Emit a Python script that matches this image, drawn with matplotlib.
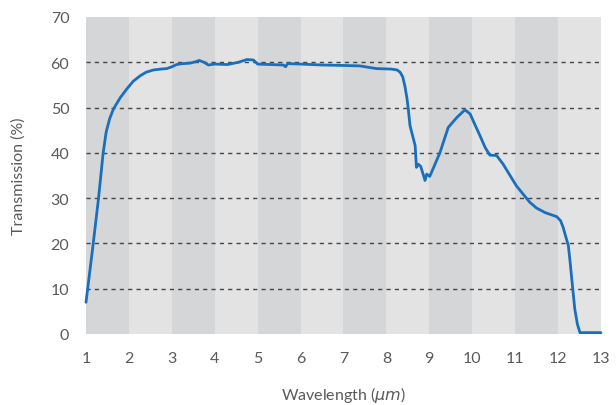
import matplotlib.pyplot as plt
import numpy as np

# transmission curve
wavelength = [1.0, 1.15, 1.29, 1.40, 1.47, 1.55, 1.64, 1.80, 1.95, 2.10, 2.26, 2.40, 2.57,
              2.75, 2.88, 3.0, 3.11, 3.25, 3.42, 3.55, 3.64, 3.75, 3.85,
              4.0, 4.3, 4.55, 4.75, 4.9, 5.0, 5.3, 5.6, 5.65, 5.7, 6.0, 6.5, 7.0,
              7.38, 7.77, 8.12, 8.25, 8.32, 8.38, 8.43, 8.48, 8.51, 8.55, 8.67, 8.70, 8.74, 8.80,
              8.90, 8.94, 9.01, 9.12, 9.25, 9.35, 9.44, 9.64, 9.83, 9.95, 10.05, 10.18, 10.30,
              10.41, 10.57, 10.72, 11.03, 11.34, 11.50, 11.70, 11.97, 12.06, 12.12, 12.18,
              12.24, 12.28, 12.32, 12.39, 12.45, 12.51, 13.0]
transmission = [7.0, 18.5, 29.8, 40.0, 44.6, 47.5, 49.7, 52.2, 54.1, 55.8, 57.0, 57.8, 58.3,
                58.5, 58.6, 59.0, 59.5, 59.7, 59.8, 60.1, 60.4, 60.0, 59.4,
                59.6, 59.5, 60.0, 60.6, 60.5, 59.6, 59.5, 59.4, 59.0, 59.7, 59.6, 59.4, 59.3,
                59.2, 58.6, 58.5, 58.3, 57.8, 56.8, 54.8, 52.0, 49.7, 46.0, 41.6, 36.8, 37.5, 37.0,
                33.9, 35.3, 34.8, 37.2, 40.1, 43.0, 45.6, 47.8, 49.5, 48.6, 46.5, 43.8, 41.2,
                39.5, 39.4, 37.5, 32.7, 29.1, 27.8, 26.8, 25.9, 25.0, 23.5, 21.5,
                19.5, 16.0, 12.1, 5.5, 2.2, 0.3, 0.3]

xticks = list(range(1, 14))
yticks = list(range(0, 71, 10))

plt.rcParams['font.family'] = ['Lato', 'DejaVu Sans']

fig = plt.figure(figsize=(6.16, 4.06), dpi=100)
ax = fig.add_axes([0.1396, 0.1749, 0.8360, 0.7808])

# alternating vertical bands
for i in range(len(xticks) - 1):
    c = '#d5d6d8' if i % 2 == 0 else '#e3e3e3'
    ax.axvspan(xticks[i], xticks[i + 1], color=c, lw=0, zorder=0)

for y in yticks[1:-1]:
    ax.axhline(y, color='#444444', lw=1.0, ls=(0, (3, 3)), zorder=1)

ax.plot(wavelength, transmission, color='#1a6fbd', lw=2.0, zorder=3,
        solid_joinstyle='round', solid_capstyle='round', clip_on=False)

ax.set_xlim(1, 13)
ax.set_ylim(0, 70)
ax.set_xticks(xticks)
ax.set_yticks(yticks)
for s in ax.spines.values():
    s.set_visible(False)
ax.tick_params(length=0, labelsize=11.5, colors='#5a5a5a', pad=12)
ax.tick_params(axis='x', pad=12)
ax.set_xlabel('Wavelength ($\\mu m$)', fontsize=11.5, color='#5a5a5a', labelpad=14)
ax.set_ylabel('Transmission (%)', fontsize=11.5, color='#5a5a5a', labelpad=18)

fig.savefig('out.png', dpi=100)
